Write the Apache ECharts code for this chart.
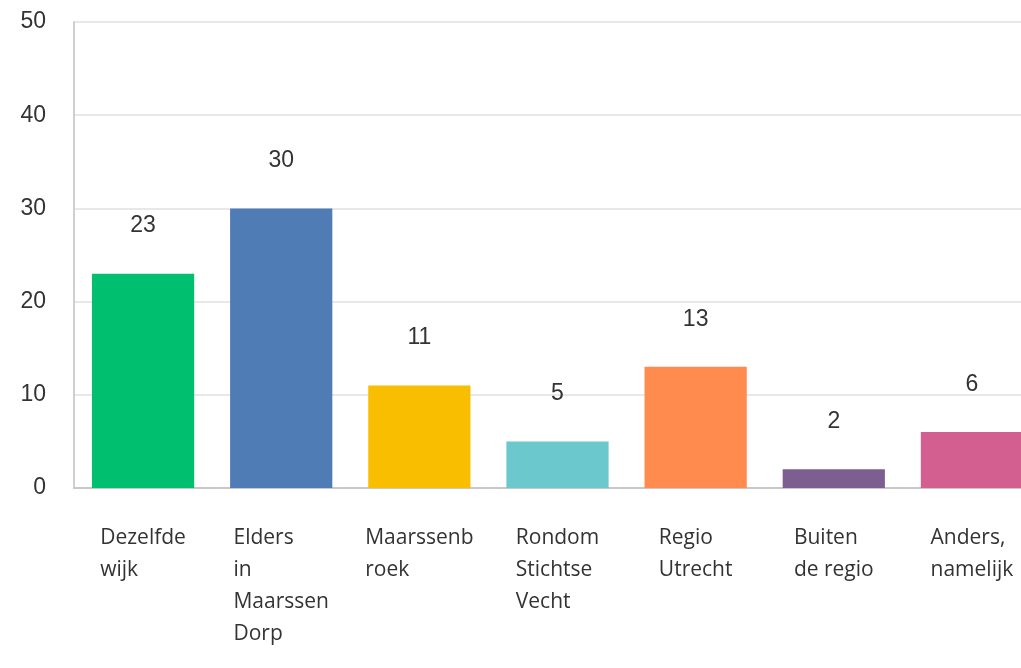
<!DOCTYPE html>
<html>
<head>
<meta charset="utf-8">
<script src="https://cdn.jsdelivr.net/npm/echarts@6/dist/echarts.min.js"></script>
<style>
html,body{margin:0;padding:0;background:#fff;}
#chart{width:1021px;height:668px;}
</style>
</head>
<body>
<div id="chart"></div>
<script>
var chart = echarts.init(document.getElementById('chart'));
var categories = ['Dezelfde\nwijk', 'Elders\nin\nMaarssen\nDorp', 'Maarssenb\nroek', 'Rondom\nStichtse\nVecht', 'Regio\nUtrecht', 'Buiten\nde regio', 'Anders,\nnamelijk'];
var values = [23, 30, 11, 5, 13, 2, 6];
var colors = ['#00bf6f', '#507cb6', '#f9be00', '#6bc8cd', '#ff8b4f', '#7d5e90', '#d25f90'];
var yTicks = [0, 10, 20, 30, 40, 50];

var barData = [];
for (var i = 0; i < values.length; i++) {
    barData.push({value: values[i], itemStyle: {color: colors[i]}});
}

var option = {
    animation: false,
    grid: {left: 74, right: -20, top: 22, bottom: 180, outerBoundsMode: 'none'},
    xAxis: {
        type: 'category',
        data: categories,
        axisTick: {show: false},
        axisLine: {lineStyle: {color: '#c8c8c8', width: 2}},
        axisLabel: {
            margin: 34,
            interval: 0,
            formatter: function (v) {
                return v.split('\n').map(function (s) { return '{l|' + s + '}'; }).join('\n');
            },
            rich: {
                l: {align: 'left', fontSize: 21, lineHeight: 32, color: '#333', fontFamily: 'Open Sans'}
            }
        }
    },
    yAxis: {
        type: 'value',
        min: yTicks[0],
        max: yTicks[yTicks.length - 1],
        interval: 10,
        axisLine: {show: true, lineStyle: {color: '#cfcfcf', width: 2}},
        axisTick: {show: false},
        splitLine: {lineStyle: {color: '#e8e8e8', width: 2}},
        axisLabel: {margin: 28, fontSize: 23, color: '#333', fontFamily: 'Liberation Sans'}
    },
    series: [{
        type: 'bar',
        data: barData,
        barWidth: '74%',
        label: {
            show: true,
            position: 'top',
            distance: 36,
            fontSize: 23,
            color: '#333',
            fontFamily: 'Liberation Sans'
        }
    }]
};
chart.setOption(option);
</script>
</body>
</html>
